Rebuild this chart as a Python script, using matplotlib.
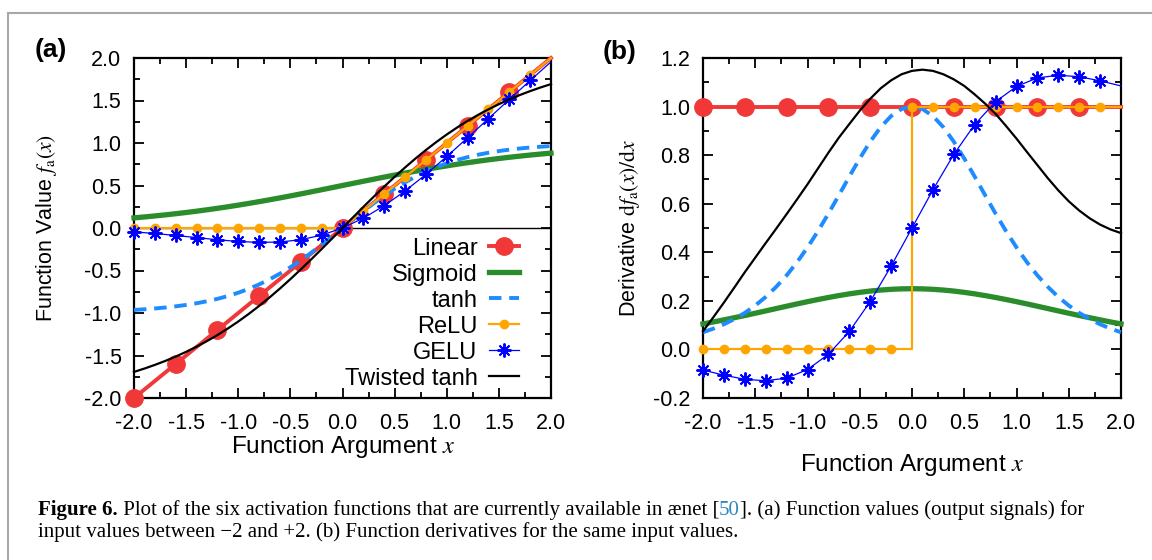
import matplotlib
matplotlib.use('Agg')
import matplotlib.pyplot as plt
import matplotlib.text as mtext
from matplotlib.ticker import MultipleLocator, AutoMinorLocator, FormatStrFormatter
from matplotlib.lines import Line2D

plt.rcParams['font.family'] = ['Liberation Sans', 'DejaVu Sans']
plt.rcParams['mathtext.fontset'] = 'stix'
plt.rcParams['axes.unicode_minus'] = False

# ---------------- data ----------------
x_fine = [-2.0, -1.9, -1.8, -1.7, -1.6, -1.5, -1.4, -1.3, -1.2, -1.1, -1.0,
          -0.9, -0.8, -0.7, -0.6, -0.5, -0.4, -0.3, -0.2, -0.1, 0.0,
          0.1, 0.2, 0.3, 0.4, 0.5, 0.6, 0.7, 0.8, 0.9, 1.0,
          1.1, 1.2, 1.3, 1.4, 1.5, 1.6, 1.7, 1.8, 1.9, 2.0]
x_mark = [-2.0, -1.8, -1.6, -1.4, -1.2, -1.0, -0.8, -0.6, -0.4, -0.2, 0.0,
          0.2, 0.4, 0.6, 0.8, 1.0, 1.2, 1.4, 1.6, 1.8, 2.0]

labels = ['Linear', 'Sigmoid', 'tanh', 'ReLU', 'GELU', 'Twisted tanh']

# function values (panel a)
linear_val = [-2.0, -1.8, -1.6, -1.4, -1.2, -1.0, -0.8, -0.6, -0.4, -0.2, 0.0,
              0.2, 0.4, 0.6, 0.8, 1.0, 1.2, 1.4, 1.6, 1.8, 2.0]
sigmoid_val = [0.1192, 0.1301, 0.1419, 0.1545, 0.1680, 0.1824, 0.1978, 0.2142, 0.2315, 0.2497, 0.2689,
               0.2891, 0.3100, 0.3318, 0.3543, 0.3775, 0.4013, 0.4256, 0.4502, 0.4750, 0.5000,
               0.5250, 0.5498, 0.5744, 0.5987, 0.6225, 0.6457, 0.6682, 0.6900, 0.7109, 0.7311,
               0.7503, 0.7685, 0.7858, 0.8022, 0.8176, 0.8320, 0.8455, 0.8581, 0.8699, 0.8808]
tanh_val = [-0.9640, -0.9562, -0.9468, -0.9354, -0.9217, -0.9051, -0.8854, -0.8617, -0.8337, -0.8005, -0.7616,
            -0.7163, -0.6640, -0.6044, -0.5370, -0.4621, -0.3799, -0.2913, -0.1974, -0.0997, 0.0,
            0.0997, 0.1974, 0.2913, 0.3799, 0.4621, 0.5370, 0.6044, 0.6640, 0.7163, 0.7616,
            0.8005, 0.8337, 0.8617, 0.8854, 0.9051, 0.9217, 0.9354, 0.9468, 0.9562, 0.9640]
relu_val = [0.0, 0.0, 0.0, 0.0, 0.0, 0.0, 0.0, 0.0, 0.0, 0.0, 0.0,
            0.2, 0.4, 0.6, 0.8, 1.0, 1.2, 1.4, 1.6, 1.8, 2.0]
gelu_val = [-0.0455, -0.0647, -0.0877, -0.1131, -0.1381, -0.1587, -0.1695, -0.1646, -0.1378, -0.0841, 0.0,
            0.1159, 0.2622, 0.4354, 0.6305, 0.8413, 1.0619, 1.2869, 1.5123, 1.7354, 1.9545]
twisted_val = [-1.6930, -1.6535, -1.6105, -1.5638, -1.5127, -1.4568, -1.3960, -1.3304, -1.2594, -1.1826, -1.1000,
               -1.0114, -0.9172, -0.8173, -0.7119, -0.6017, -0.4870, -0.3687, -0.2475, -0.1243, 0.0,
               0.1243, 0.2475, 0.3687, 0.4870, 0.6017, 0.7119, 0.8173, 0.9172, 1.0114, 1.1000,
               1.1826, 1.2594, 1.3304, 1.3960, 1.4568, 1.5127, 1.5638, 1.6105, 1.6535, 1.6930]

# derivatives (panel b)
linear_der = [1.0] * 21
sigmoid_der = [0.1050, 0.1132, 0.1217, 0.1306, 0.1397, 0.1491, 0.1586, 0.1683, 0.1779, 0.1874, 0.1966,
               0.2055, 0.2139, 0.2217, 0.2288, 0.2350, 0.2403, 0.2445, 0.2475, 0.2494, 0.2500,
               0.2494, 0.2475, 0.2445, 0.2403, 0.2350, 0.2288, 0.2217, 0.2139, 0.2055, 0.1966,
               0.1874, 0.1779, 0.1683, 0.1586, 0.1491, 0.1397, 0.1306, 0.1217, 0.1132, 0.1050]
tanh_der = [0.0707, 0.0857, 0.1036, 0.1250, 0.1505, 0.1808, 0.2161, 0.2575, 0.3049, 0.3592, 0.4200,
            0.4869, 0.5591, 0.6347, 0.7116, 0.7864, 0.8556, 0.9151, 0.9610, 0.9901, 1.0000,
            0.9901, 0.9610, 0.9151, 0.8556, 0.7864, 0.7116, 0.6347, 0.5591, 0.4869, 0.4200,
            0.3592, 0.3049, 0.2575, 0.2161, 0.1808, 0.1505, 0.1250, 0.1036, 0.0857, 0.0707]
relu_der = [0.0, 0.0, 0.0, 0.0, 0.0, 0.0, 0.0, 0.0, 0.0, 0.0, 1.0,
            1.0, 1.0, 1.0, 1.0, 1.0, 1.0, 1.0, 1.0, 1.0, 1.0]
gelu_der = [-0.085, -0.106, -0.123, -0.129, -0.118, -0.083, -0.020, 0.074, 0.197, 0.343, 0.500,
            0.657, 0.803, 0.926, 1.020, 1.083, 1.118, 1.129, 1.123, 1.106, 1.085]
twisted_der = [0.075, 0.133, 0.193, 0.255, 0.318, 0.378, 0.438, 0.497, 0.557, 0.618, 0.680,
               0.745, 0.810, 0.872, 0.928, 0.983, 1.032, 1.075, 1.108, 1.133, 1.147,
               1.152, 1.147, 1.133, 1.112, 1.085, 1.050, 1.012, 0.970, 0.920, 0.868,
               0.813, 0.759, 0.705, 0.655, 0.610, 0.572, 0.540, 0.514, 0.494, 0.479]

# ---------------- style ----------------
c_lin = '#f03838'
c_sig = '#2a8c2a'
c_tanh = '#1e8cff'
c_relu = '#ffa500'
c_gelu = '#0000ff'
c_tw = '#000000'
every4 = list(range(0, 20, 2))
every2 = list(range(0, 20))

fig = plt.figure(figsize=(11.52, 5.6), dpi=100)
W, H = 1152.0, 560.0
axA = fig.add_axes([134 / W, 1 - 398 / H, 417 / W, 340 / H])
axB = fig.add_axes([703 / W, 1 - 398 / H, 418 / W, 340 / H])

axA.axhline(0.0, color='k', lw=1.0, zorder=1)


def draw(ax, lin, sig, th, re, ge, tw, relu_steps=False):
    ax.plot(x_mark, lin, color=c_lin, lw=2.8, marker='o', ms=12.5, markevery=every4,
            clip_on=False, label=labels[0], zorder=3)
    ax.plot(x_fine, sig, color=c_sig, lw=3.8, clip_on=False, label=labels[1], zorder=3)
    ax.plot(x_fine, th, color=c_tanh, lw=2.8, ls=(0, (3.2, 2.0)), clip_on=False,
            label=labels[2], zorder=3)
    ax.plot(x_mark, re, color=c_relu, lw=1.6, marker='o', ms=6, markevery=every2,
            drawstyle='steps-post' if relu_steps else 'default', clip_on=False,
            label=labels[3], zorder=3)
    ax.plot(x_mark, ge, color=c_gelu, lw=0.9, marker=(8, 2, 0), ms=10, mew=1.4,
            markevery=every2, clip_on=False, label=labels[4], zorder=3)
    ax.plot(x_fine, tw, color=c_tw, lw=1.6, clip_on=False, label=labels[5], zorder=3)


draw(axA, linear_val, sigmoid_val, tanh_val, relu_val, gelu_val, twisted_val)
draw(axB, linear_der, sigmoid_der, tanh_der, relu_der, gelu_der, twisted_der, relu_steps=True)

for ax in (axA, axB):
    ax.set_xlim(-2.0, 2.0)
    ax.xaxis.set_major_locator(MultipleLocator(0.5))
    ax.xaxis.set_minor_locator(AutoMinorLocator(2))
    ax.yaxis.set_minor_locator(AutoMinorLocator(2))
    ax.xaxis.set_major_formatter(FormatStrFormatter('%.1f'))
    ax.yaxis.set_major_formatter(FormatStrFormatter('%.1f'))
    ax.tick_params(which='both', direction='in', top=True, right=True, width=1.3,
                   labelsize=15.5)
    ax.tick_params(which='major', length=7)
    ax.tick_params(which='minor', length=4)
    ax.tick_params(axis='x', which='major', pad=11)
    ax.tick_params(axis='y', which='major', pad=9)
    for s in ax.spines.values():
        s.set_linewidth(1.6)

axA.set_ylim(-2.0, 2.0)
axA.yaxis.set_major_locator(MultipleLocator(0.5))
axB.set_ylim(-0.2, 1.2)
axB.yaxis.set_major_locator(MultipleLocator(0.2))

leg = axA.legend(loc='lower right', bbox_to_anchor=(1.0 - 24 / 417, 0.0), frameon=False,
                 markerfirst=False, fontsize=17, handlelength=1.25, handletextpad=0.5,
                 labelspacing=0.17, borderaxespad=0.2, borderpad=0.15)

# axis labels
fig.text(47 / W, 1 - 228 / H, r'Function Value $f_\mathrm{a}(x)$', rotation=90,
         ha='center', va='center', fontsize=15.5)
fig.text(630 / W, 1 - 228 / H, r'Derivative $\mathrm{d}f_\mathrm{a}(x)/\mathrm{d}x$', rotation=90,
         ha='center', va='center', fontsize=15.5)
fig.text(343 / W, 1 - 447 / H, r'Function Argument $x$', ha='center', va='center', fontsize=17.5)
fig.text(912 / W, 1 - 465 / H, r'Function Argument $x$', ha='center', va='center', fontsize=17.5)

fig.text(35 / W, 1 - 50 / H, '(a)', fontweight='bold', fontsize=19, va='center', ha='left')
fig.text(603 / W, 1 - 52 / H, '(b)', fontweight='bold', fontsize=19, va='center', ha='left')

# frame lines
fig.add_artist(Line2D([8 / W, 1.0], [1 - 13 / H, 1 - 13 / H], transform=fig.transFigure,
                      color='#a8a8a8', lw=1.5))
fig.add_artist(Line2D([8 / W, 8 / W], [1 - 13 / H, 0.0], transform=fig.transFigure,
                      color='#a8a8a8', lw=1.5))

# caption
serif = ['Liberation Serif', 'DejaVu Serif']
cap_fs = 15


def annotate_after(prev, txt, ybase, kw):
    return fig.add_artist(mtext.Annotation(
        txt, xy=(1.0, ybase), xycoords=(prev, 'figure fraction'),
        fontsize=cap_fs, family=serif, va='baseline', ha='left', **kw))


def chain(pieces, x0, ybase):
    prev = fig.text(x0, ybase, pieces[0][0], fontsize=cap_fs, family=serif,
                    va='baseline', ha='left', **pieces[0][1])
    for txt, kw in pieces[1:]:
        prev = annotate_after(prev, txt, ybase, kw)


line1 = [('Figure 6.', {'fontweight': 'bold'}),
         (' Plot of the six activation functions that are currently available in \u00e6net [', {}),
         ('50', {'color': '#2e86c1'}),
         ('].  (a) Function values (output signals) for'.replace('  ', ' '), {})]
line2 = [('input values between \u22122 and +2. (b) Function derivatives for the same input values.', {})]
chain(line1, 38 / W, 1 - 515 / H)
chain(line2, 38 / W, 1 - 537 / H)

fig.savefig('out.png', dpi=100)
